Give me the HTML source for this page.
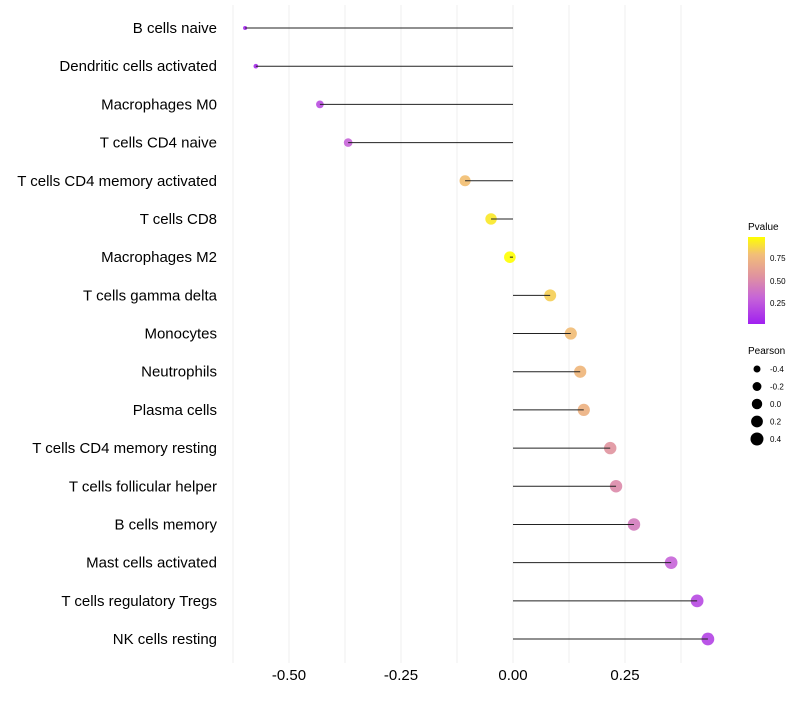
<!DOCTYPE html>
<html><head><meta charset="utf-8"><style>
body{margin:0;background:#fff;font-family:"Liberation Sans",sans-serif;}
</style></head><body>
<svg id="chart" width="800" height="700" xmlns="http://www.w3.org/2000/svg">
<defs>
<linearGradient id="pg" x1="0" y1="1" x2="0" y2="0">
<stop offset="0" stop-color="#A020F0"/><stop offset="0.3" stop-color="#C664D8"/>
<stop offset="0.55" stop-color="#E0939F"/><stop offset="0.8" stop-color="#F2BE78"/>
<stop offset="1" stop-color="#FFFF00"/></linearGradient>
</defs>
<g id="grid"></g><g id="marks"></g><g id="labels"></g>
<g>
<text x="748" y="230" font-size="10">Pvalue</text>
<rect x="748" y="237" width="17" height="87" fill="url(#pg)"/>
<text x="770" y="261" font-size="8">0.75</text>
<text x="770" y="284" font-size="8">0.50</text>
<text x="770" y="306" font-size="8">0.25</text>
</g>
<g id="sizeleg">
<text x="748" y="354" font-size="10">Pearson</text>
</g>
</svg>
<script>
const categories=["B cells naive","Dendritic cells activated","Macrophages M0","T cells CD4 naive","T cells CD4 memory activated","T cells CD8","Macrophages M2","T cells gamma delta","Monocytes","Neutrophils","Plasma cells","T cells CD4 memory resting","T cells follicular helper","B cells memory","Mast cells activated","T cells regulatory  Tregs","NK cells resting"];
const pearson=[-0.598,-0.574,-0.431,-0.368,-0.107,-0.049,-0.007,0.083,0.129,0.150,0.158,0.217,0.230,0.270,0.353,0.411,0.435];
const pvalue=[0.03,0.05,0.2,0.3,0.8,0.93,1.0,0.85,0.78,0.75,0.72,0.55,0.5,0.42,0.3,0.18,0.15];
const xTicks=[-0.5,-0.25,0,0.25];
const xTickLabels=["-0.50","-0.25","0.00","0.25"];
const sizeLegend=[-0.4,-0.2,0.0,0.2,0.4];
const sizeLegendLabels=["-0.4","-0.2","0.0","0.2","0.4"];
const NS="http://www.w3.org/2000/svg";
const x=v=>513+v*448;
const y=i=>28+i*38.19;
const r=v=>2+4.6*(1-Math.exp(-3*(v+0.6)));
const rl=v=>Math.sqrt(27.25+37.5*v);
function lerp(a,b,t){return a.map((c,i)=>Math.round(c+(b[i]-c)*t));}
const stops=[[0,[160,32,240]],[0.3,[198,100,216]],[0.55,[224,147,159]],[0.8,[242,190,112]],[1,[255,255,0]]];
function col(p){for(let k=1;k<stops.length;k++){if(p<=stops[k][0]){const t=(p-stops[k-1][0])/(stops[k][0]-stops[k-1][0]);return "rgb("+lerp(stops[k-1][1],stops[k][1],t).join(",")+")";}}return "rgb(255,255,0)";}
function mk(tag,attrs,parent,text){const e=document.createElementNS(NS,tag);for(const k in attrs)e.setAttribute(k,attrs[k]);if(text!==undefined)e.textContent=text;parent.appendChild(e);return e;}
const grid=document.getElementById('grid'),marks=document.getElementById('marks'),labels=document.getElementById('labels');
for(let v=-0.625;v<=0.376;v+=0.125){
  const g=mk('line',{x1:x(v),x2:x(v),y1:5,y2:663,stroke:'#efefef','stroke-width':1},grid);
  
  
}
categories.forEach((c,i)=>{
  const dot=mk('circle',{cx:x(pearson[i]),cy:y(i),r:r(pearson[i]),fill:col(pvalue[i]),'fill-opacity':0.9},marks);
  
  
  const ln=mk('line',{x1:x(0),x2:x(pearson[i]),y1:y(i),y2:y(i),stroke:'#222','stroke-width':1},marks);
  
  
  const t=mk('text',{x:217,y:y(i)+5,'text-anchor':'end','font-size':15,fill:'#000'},labels,c);
  
  
});
xTicks.forEach((v,i)=>{
  const t=mk('text',{x:x(v),y:680,'text-anchor':'middle','font-size':15,fill:'#000'},labels,xTickLabels[i]);
  
  
});
const sl=document.getElementById('sizeleg');
sizeLegend.forEach((v,i)=>{
  const cy=369+i*17.5;
  const c=mk('circle',{cx:757,cy:cy,r:rl(v),fill:'#000'},sl);
  
  
  const t=mk('text',{x:770,y:cy+3,'font-size':8},sl,sizeLegendLabels[i]);
  
  
});
</script>
</body></html>
